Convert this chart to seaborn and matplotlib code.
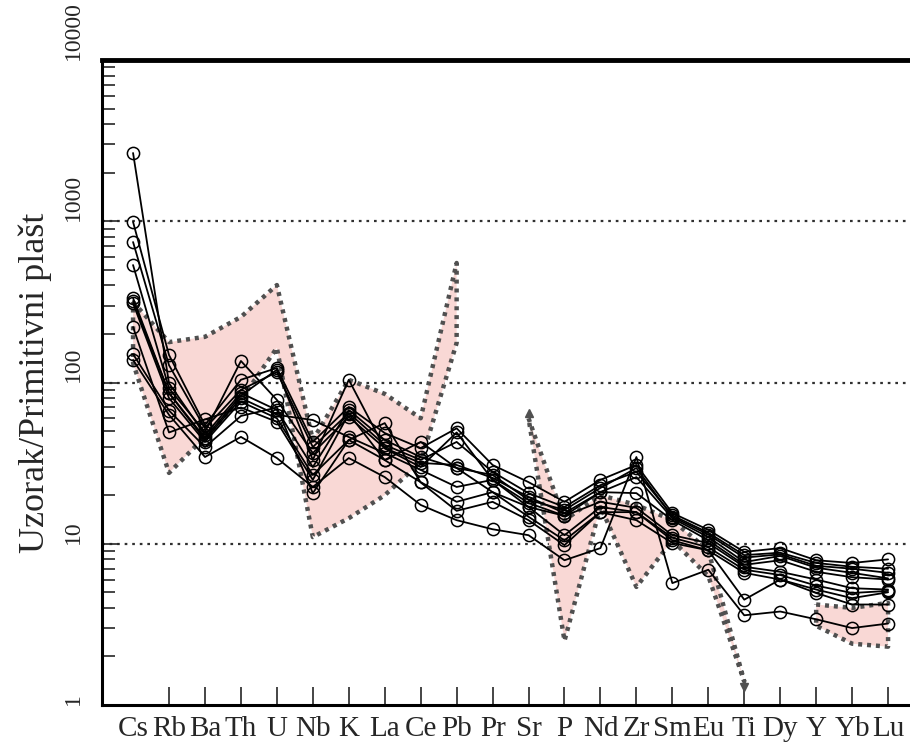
import numpy as np
import pandas as pd
import matplotlib
matplotlib.use("Agg")
import matplotlib.pyplot as plt
import matplotlib.transforms as mtransforms
import seaborn as sns

# ---------------- data ----------------
elements = ["Cs", "Rb", "Ba", "Th", "U", "Nb", "K", "La", "Ce", "Pb", "Pr",
            "Sr", "P", "Nd", "Zr", "Sm", "Eu", "Ti", "Dy", "Y", "Yb", "Lu"]

s01 = [2650, 99, 47.3, 86, 67.5, 29.9, 67.5, 44, 34.5, 29.5, 26.7, 18.7, 16.2, 22.2, 29.5, 14.7, 11.4, 8.2, 8.6, 7.3, 7.0, 6.6]
s02 = [990, 148, 54.5, 104, 123, 42.8, 70.5, 48.6, 39.2, 52, 30.8, 24.1, 18.2, 24.9, 30.8, 15.5, 12.2, 8.9, 9.4, 7.9, 7.6, 8.0]
s03 = [743, 128, 52, 90, 116, 39.8, 64.7, 41, 33.1, 42.8, 27.9, 20.6, 16.9, 23.1, 27.9, 15.0, 11.7, 8.5, 8.8, 7.6, 7.2, 7.0]
s04 = [535, 92, 49.3, 136, 78, 36.5, 61.1, 39.2, 31.7, 30.8, 25.6, 19.5, 15.5, 20.9, 25.9, 14.4, 11.0, 7.7, 8.4, 7.1, 6.6, 6.1]
s05 = [334, 86, 45.3, 83, 120, 33.1, 104, 39, 29.9, 49, 24.9, 17.9, 14.9, 20.9, 20.6, 14.0, 10.5, 7.4, 7.9, 6.7, 6.2, 6.0]
s06 = [320, 86, 44, 80, 63, 58.5, 45.9, 36.5, 28.7, 22.5, 24.9, 16.9, 14.9, 18.2, 16.7, 11.3, 10.1, 7.2, 6.7, 6.0, 5.3, 5.2]
s07 = [310, 80, 42.8, 76, 60, 26.7, 44, 33.1, 42.8, 29.5, 20.9, 16.9, 11.3, 16.9, 15.7, 10.9, 9.5, 6.9, 6.4, 5.5, 4.95, 5.1]
s08 = [221, 49, 59, 70, 57, 24.9, 64, 33, 24.1, 18.2, 20.9, 14.7, 10.5, 15.7, 15.7, 10.5, 9.1, 6.6, 6.0, 5.2, 4.6, 5.0]
s09 = [150, 67, 39.8, 62, 70, 20.6, 44, 56, 24, 16, 18.2, 14.0, 9.8, 15.7, 14.0, 10.1, 9.1, 4.5, 6.0, 4.95, 4.2, 4.2]
s10 = [138, 63, 34.5, 46, 34, 22.5, 34, 25.9, 17.4, 14, 12.3, 11.3, 7.9, 9.4, 34.5, 5.7, 6.9, 3.6, 3.8, 3.4, 3.0, 3.2]

nan = np.nan
field_upper = [316, 178, 192, 255, 402, 44, 104, 85, 60, 551, nan,
               60, 14, 20, 17.4, 14, 9.1, 1.4, nan, 4.2, 4.0, 4.3]
field_lower = [132, 27.5, 46, 78, 164, 11, 14.4, 20, 32, 176, nan,
               60, 2.5, 17, 5.4, 10.5, 6.3, 1.4, nan, 3.1, 2.4, 2.3]

y_ticks = [1, 10, 100, 1000, 10000]
y_tick_labels = ["1", "10", "100", "1000", "10000"]
y_label = "Uzorak/Primitivni plašt"

# ---------------- build frame ----------------
samples = [s01, s02, s03, s04, s05, s06, s07, s08, s09, s10]
rows = []
for k, s in enumerate(samples):
    for i, v in enumerate(s):
        rows.append({"sample": k, "idx": i, "value": v})
df = pd.DataFrame(rows)

sns.set_style("white")
plt.rcParams["font.family"] = ["Liberation Serif", "DejaVu Serif"]

W, H = 910, 747
fig = plt.figure(figsize=(W / 100, H / 100), dpi=100)
ax = fig.add_axes([102 / W, 42 / H, (W - 102) / W, (705 - 60) / H])

# ---------------- field ----------------
up = np.array(field_upper, dtype=float)
lo = np.array(field_lower, dtype=float)
xs = np.arange(len(elements))
valid = ~np.isnan(up)
segs = []
start = None
for i in range(len(xs)):
    if valid[i] and start is None:
        start = i
    if (not valid[i] or i == len(xs) - 1) and start is not None:
        end = i if valid[i] else i - 1
        segs.append((start, end))
        start = None

border = dict(color="#505050", lw=3.2, linestyle=(0, (0.9, 1.1)),
              dash_capstyle="butt", zorder=2)
for a, b in segs:
    px = np.concatenate([xs[a:b + 1], xs[a:b + 1][::-1], [xs[a]]])
    py = np.concatenate([up[a:b + 1], lo[a:b + 1][::-1], [up[a]]])
    ax.fill(px, py, facecolor="#f9d8d5", edgecolor="none", zorder=1)
    ax.plot(px, py, **border)

# arrow tips (Sr top, Ti bottom)
ax.plot([xs[11]], [up[11] * 1.08], marker="^", ms=6, color="#505050",
        ls="none", zorder=2)
ax.plot([xs[17]], [lo[17] * 0.93], marker="v", ms=6, color="#505050",
        ls="none", zorder=2)

# ---------------- grid ----------------
for g in [10, 100, 1000]:
    ax.axhline(g, color="#303030", lw=1.6, linestyle=(0, (1.2, 2.2)), zorder=0.5)

# ---------------- samples ----------------
sns.lineplot(data=df, x="idx", y="value", units="sample", estimator=None,
             color="black", lw=1.3, marker="o", markersize=8.8,
             markerfacecolor="none", markeredgecolor="black",
             markeredgewidth=1.1, ax=ax, legend=False, zorder=3)

# ---------------- axes ----------------
ax.set_yscale("log")
ax.set_ylim(1, 10000)
ax.set_xlim(-0.864, 21.61)

ax.set_xticks(xs)
ax.set_xticklabels(elements, fontsize=21)
ax.set_yticks(y_ticks)
ax.set_yticklabels(y_tick_labels, fontsize=17, rotation=90, va="bottom")
shift = mtransforms.ScaledTranslation(0, 2 / 72, fig.dpi_scale_trans)
for lab in ax.get_yticklabels():
    lab.set_transform(lab.get_transform() + shift)
ax.set_xlabel("")
ax.set_ylabel(y_label, fontsize=26, labelpad=8)

ax.tick_params(axis="x", direction="in", length=13, width=1.2, pad=8,
               bottom=True, top=False)
ax.tick_params(axis="y", which="major", direction="in", length=12, width=1.2,
               pad=13, left=True)
ax.tick_params(axis="y", which="minor", direction="in", length=9, width=1.2,
               left=True)
ax.xaxis.get_major_ticks()[0].tick1line.set_visible(False)

for side in ["left", "bottom"]:
    ax.spines[side].set_linewidth(2.2)
    ax.spines[side].set_color("black")
ax.spines["top"].set_linewidth(3.5)
ax.spines["top"].set_color("black")
ax.spines["right"].set_visible(False)
ax.grid(False)

fig.savefig("out.png", dpi=100)
